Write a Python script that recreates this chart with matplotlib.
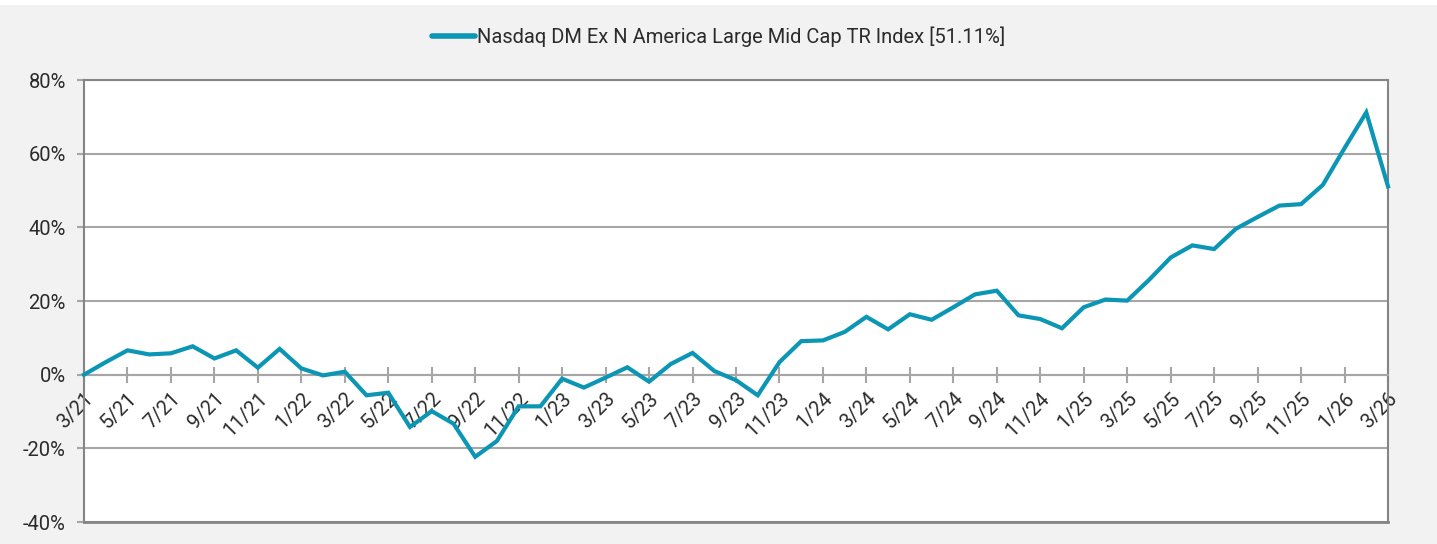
import matplotlib
matplotlib.use('Agg')
import matplotlib.pyplot as plt
from matplotlib.patches import Rectangle
from matplotlib.ticker import FuncFormatter
from matplotlib.transforms import ScaledTranslation

plt.rcParams['font.family'] = ['Roboto', 'DejaVu Sans']

months = ['3/21', '4/21', '5/21', '6/21', '7/21', '8/21', '9/21', '10/21', '11/21', '12/21',
          '1/22', '2/22', '3/22', '4/22', '5/22', '6/22', '7/22', '8/22', '9/22', '10/22',
          '11/22', '12/22', '1/23', '2/23', '3/23', '4/23', '5/23', '6/23', '7/23', '8/23',
          '9/23', '10/23', '11/23', '12/23', '1/24', '2/24', '3/24', '4/24', '5/24', '6/24',
          '7/24', '8/24', '9/24', '10/24', '11/24', '12/24', '1/25', '2/25', '3/25', '4/25',
          '5/25', '6/25', '7/25', '8/25', '9/25', '10/25', '11/25', '12/25', '1/26', '2/26',
          '3/26']
returns = [0.0, 3.4, 6.6, 5.5, 5.8, 7.7, 4.4, 6.6, 1.9, 7.0,
           1.7, -0.2, 0.8, -5.6, -4.9, -14.2, -9.9, -13.3, -22.3, -18.0,
           -8.6, -8.6, -1.1, -3.5, -0.8, 2.0, -1.9, 2.9, 5.9, 1.0,
           -1.5, -5.6, 3.4, 9.1, 9.3, 11.6, 15.7, 12.3, 16.4, 14.9,
           18.3, 21.8, 22.8, 16.1, 15.1, 12.6, 18.3, 20.4, 20.1, 25.7,
           31.8, 35.1, 34.1, 39.6, 42.8, 45.9, 46.3, 51.5, 61.5, 71.2,
           51.11]
series_name = 'Nasdaq DM Ex N America Large Mid Cap TR Index [51.11%]'

line_color = '#0a96b4'
grid_color = '#a6a6a6'
edge_color = '#858585'
text_color = '#2b2b2b'

fig = plt.figure(figsize=(14.37, 5.44), dpi=100)
fig.patch.set_facecolor('#f2f2f2')
# thin white strip along the top edge
fig.patches.append(Rectangle((0, 1 - 5 / 544), 1, 5 / 544, transform=fig.transFigure,
                             facecolor='white', edgecolor='none', zorder=0))

ax = fig.add_axes([84 / 1437, 1 - 522 / 544, (1388 - 84) / 1437, (522 - 80) / 544])
ax.set_facecolor('white')

x = list(range(len(months)))
ax.plot(x, returns, color=line_color, lw=3.0, solid_joinstyle='miter', zorder=3,
        label=series_name, clip_on=False)

# x axis crosses at 0 (set before ticks, this resets them)
ax.spines['bottom'].set_position(('data', 0))
ax.spines['bottom'].set_color(grid_color)
ax.spines['bottom'].set_linewidth(1.5)
for side in ['left', 'right', 'top']:
    ax.spines[side].set_color(edge_color)
    ax.spines[side].set_linewidth(1.5)

ax.set_xlim(0, len(months) - 1)
ax.set_ylim(-40, 80)
ax.set_yticks([-40, -20, 0, 20, 40, 60, 80])
ax.yaxis.set_major_formatter(FuncFormatter(lambda v, p: f'{v:.0f}%'))
ax.yaxis.grid(True, color=grid_color, lw=1.5)
ax.set_axisbelow(True)
ax.axhline(-40, color=edge_color, lw=2.0, zorder=2, clip_on=False)

ax.set_xticks(x[::2])
ax.set_xticklabels(months[::2], rotation=45, ha='right', va='top', rotation_mode='anchor')
shift = ScaledTranslation(-0.06, -0.04, fig.dpi_scale_trans)
for lab in ax.get_xticklabels():
    lab.set_transform(lab.get_transform() + shift)

ax.tick_params(axis='x', direction='inout', length=12, width=1.5, color=grid_color,
               labelsize=14.5, pad=4, labelcolor=text_color)
ax.tick_params(axis='y', direction='out', length=5, width=1.5, color=grid_color,
               labelsize=14.5, pad=8, labelcolor=text_color)

leg = fig.legend(loc='center', bbox_to_anchor=(0.5, 1 - 37 / 544), frameon=False,
                 fontsize=14.5, handlelength=2.1, handletextpad=0.1, labelcolor=text_color)
for h in leg.get_lines():
    h.set_linewidth(4.0)
    h.set_solid_capstyle('round')

fig.savefig('out.png', dpi=100, facecolor=fig.get_facecolor())
